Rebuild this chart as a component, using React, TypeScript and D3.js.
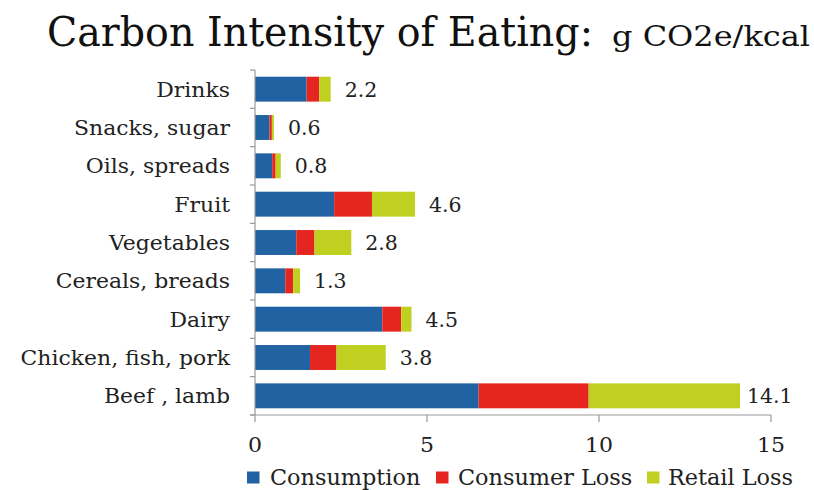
import React from "react";
import * as d3 from "d3";

const categories = ["Drinks", "Snacks, sugar", "Oils, spreads", "Fruit", "Vegetables", "Cereals, breads", "Dairy", "Chicken, fish, pork", "Beef , lamb"];
const consumption = [1.5, 0.42, 0.5, 2.3, 1.2, 0.88, 3.7, 1.6, 6.5];
const consumerLoss = [0.37, 0.07, 0.1, 1.1, 0.53, 0.23, 0.55, 0.77, 3.2];
const retailLoss = [0.33, 0.06, 0.15, 1.25, 1.07, 0.2, 0.3, 1.43, 4.4];
const totalLabels = ["2.2", "0.6", "0.8", "4.6", "2.8", "1.3", "4.5", "3.8", "14.1"];
const seriesNames = ["Consumption", "Consumer Loss", "Retail Loss"];
const seriesColors = ["#2162a2", "#e5251f", "#c0d020"];
const xTicks = [0, 5, 10, 15];

const FONT = "'DejaVu Serif', 'Liberation Serif', serif";
const TXT = "#222";

export default function App() {
  const W = 814, H = 490;
  const x = d3.scaleLinear().domain([0, 15]).range([255, 771]);
  const y = d3.scaleBand<string>().domain(categories).range([70, 415]).paddingInner(0.35).paddingOuter(0.175);
  const rows = categories.map((c, i) => ({ cat: c, Consumption: consumption[i], "Consumer Loss": consumerLoss[i], "Retail Loss": retailLoss[i] }));
  const stacked = d3.stack<any>().keys(seriesNames)(rows);
  const step = y.step();
  const boundaries = d3.range(categories.length + 1).map(i => 70 + i * step);

  const legendItems = [
    { name: seriesNames[0], sx: 247, tx: 270 },
    { name: seriesNames[1], sx: 436, tx: 458 },
    { name: seriesNames[2], sx: 647, tx: 668 },
  ];

  return (
    <svg width={W} height={H} style={{ position: "absolute", left: 0, top: 0, background: "#fff" }} fontFamily={FONT}>
      <text x={47} y={46} fontSize={41} fill="#111" textLength={546} lengthAdjust="spacingAndGlyphs">Carbon Intensity of Eating:</text>
      <text x={612} y={46} fontSize={27} fill="#111" textLength={198} lengthAdjust="spacingAndGlyphs">g CO2e/kcal</text>

      {stacked.map((s, si) => (
        <g key={s.key} fill={seriesColors[si]}>
          {s.map((d, i) => (
            <rect key={i} x={x(d[0])} y={y(categories[i])!} width={x(d[1]) - x(d[0])} height={y.bandwidth()} />
          ))}
        </g>
      ))}

      {categories.map((c, i) => {
        const tot = consumption[i] + consumerLoss[i] + retailLoss[i];
        const lx = Math.min(x(tot) + 14, 747);
        return (
          <text key={c} x={lx} y={y(c)! + y.bandwidth() / 2} dy="0.36em" fontSize={20.5} fill={TXT}>{totalLabels[i]}</text>
        );
      })}

      {categories.map(c => (
        <text key={c} transform={`translate(230,${y(c)! + y.bandwidth() / 2}) scale(1.07,1)`} dy="0.36em" fontSize={20.5} textAnchor="end" fill={TXT}>{c}</text>
      ))}

      <line x1={255} x2={255} y1={70} y2={415} stroke="#999" strokeWidth={1.2} />
      {boundaries.map((b, i) => (
        <line key={i} x1={250} x2={255} y1={b} y2={b} stroke="#999" strokeWidth={1.2} />
      ))}
      <line x1={250} x2={x(15)} y1={415} y2={415} stroke="#999" strokeWidth={1.2} />
      {xTicks.map(t => (
        <g key={t}>
          <line x1={x(t)} x2={x(t)} y1={415} y2={422} stroke="#999" strokeWidth={1.2} />
          <text transform={`translate(${x(t)},444) scale(1.05,1)`} dy="0.36em" fontSize={21} textAnchor="middle" fill={TXT}>{t}</text>
        </g>
      ))}

      {legendItems.map((l, i) => (
        <g key={l.name}>
          <rect x={l.sx} y={471.5} width={12.5} height={12} fill={seriesColors[i]} />
          <text transform={`translate(${l.tx},477) scale(1.04,1)`} dy="0.35em" fontSize={21.5} fill={TXT}>{l.name}</text>
        </g>
      ))}
    </svg>
  );
}
